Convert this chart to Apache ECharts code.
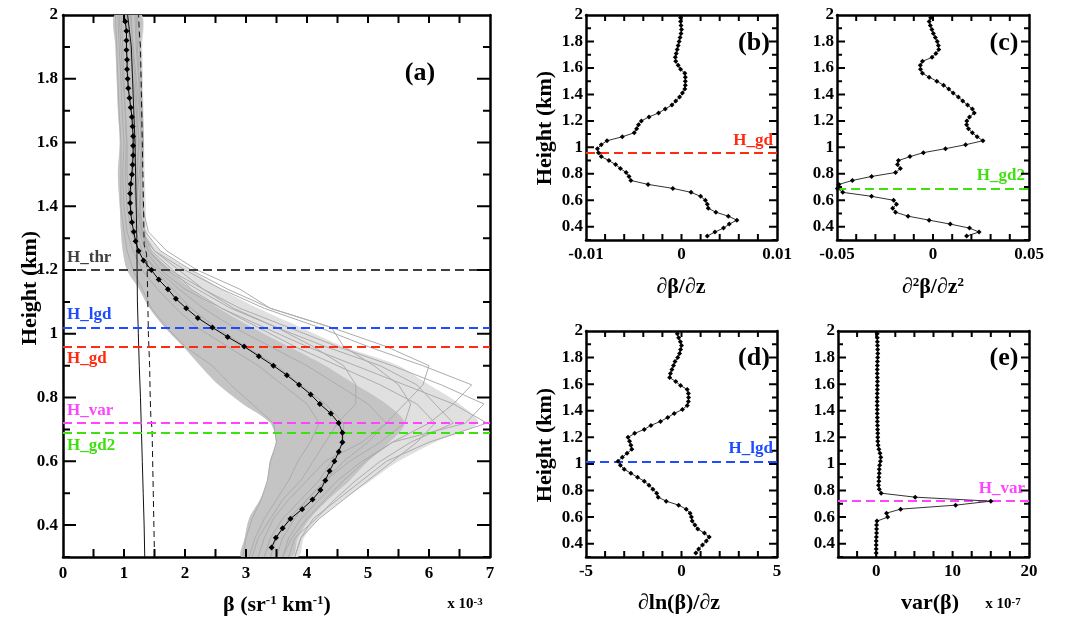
<!DOCTYPE html>
<html><head><meta charset="utf-8">
<script src="https://cdn.jsdelivr.net/npm/echarts@6/dist/echarts.min.js"></script>
<style>html,body{margin:0;padding:0;background:#fff}#c{width:1066px;height:619px}</style>
</head><body><div id="c"></div>
<script>
const FONT = '"Liberation Serif","Times New Roman",serif';

// ---------- data ----------
const heights = [0.33,0.36,0.39,0.42,0.45,0.48,0.51,0.54,0.57,0.60,0.63,0.66,0.69,0.72,0.75,0.78,0.81,0.84,0.87,0.90,0.93,0.96,0.99,1.02,1.05,1.08,1.11,1.14,1.17,1.20,1.23,1.26,1.29,1.32,1.35,1.38,1.41,1.44,1.47,1.50,1.53,1.56,1.59,1.62,1.65,1.68,1.71,1.74,1.77,1.80,1.83,1.86,1.89,1.92,1.95,1.98];
// mean backscatter (x 10^-3)
const meanBeta = [3.42,3.49,3.60,3.73,3.92,4.09,4.22,4.30,4.37,4.45,4.52,4.58,4.58,4.52,4.39,4.21,4.06,3.87,3.67,3.45,3.21,2.97,2.70,2.45,2.21,2.02,1.85,1.72,1.57,1.45,1.32,1.24,1.19,1.16,1.13,1.11,1.10,1.10,1.11,1.13,1.14,1.15,1.15,1.15,1.14,1.13,1.11,1.09,1.07,1.06,1.05,1.05,1.04,1.04,1.04,1.02];
const dBeta = [0.0027,0.0035,0.0044,0.0050,0.0058,0.0049,0.0036,0.0028,0.0027,0.0025,0.0020,0.0010,-0.0009,-0.0035,-0.0053,-0.0055,-0.0058,-0.0064,-0.0069,-0.0076,-0.0084,-0.0087,-0.0088,-0.0084,-0.0078,-0.0062,-0.00495,-0.0047,-0.0045,-0.0042,-0.0034,-0.0024,-0.0017,-0.0010,-0.0006,-0.0002,0.0001,0.00035,0.0004,0.0004,0.0004,0.00035,-0.0001,-0.00035,-0.0006,-0.00065,-0.00055,-0.00045,-0.00035,-0.00025,-0.00015,-0.00005,0.0,-0.00005,-0.0001,-0.0001];
const d2Beta = [0.0175,0.024,0.019,0.009,-0.002,-0.013,-0.0195,-0.021,-0.019,-0.0205,-0.032,-0.047,-0.0498,-0.049,-0.042,-0.032,-0.0195,-0.017,-0.0185,-0.018,-0.012,-0.005,0.0065,0.017,0.026,0.023,0.0205,0.0185,0.0175,0.0176,0.019,0.0215,0.0205,0.018,0.0155,0.0132,0.0105,0.0082,0.0055,0.002,-0.002,-0.0055,-0.0065,-0.0066,-0.0055,-0.0005,0.0015,0.003,0.0028,0.0022,0.0012,0.0002,-0.0006,-0.0014,-0.002,-0.0012];
const dlnBeta = [0.75,0.9,1.1,1.3,1.45,1.2,0.85,0.7,0.56,0.52,0.45,0.25,-0.15,-0.8,-1.22,-1.3,-1.5,-1.7,-1.95,-2.3,-2.65,-3.0,-3.2,-3.32,-3.1,-2.85,-2.6,-2.65,-2.72,-2.8,-2.45,-1.95,-1.6,-1.1,-0.72,-0.38,0.05,0.3,0.36,0.37,0.36,0.3,-0.05,-0.3,-0.62,-0.58,-0.5,-0.42,-0.34,-0.2,-0.1,-0.05,0.0,-0.06,-0.15,-0.22];
// variance (x 10^-7)
const varBeta = [0.0,0.0,0.0,0.0,0.02,0.05,0.05,0.05,0.1,1.5,1.35,3.2,10.4,15.0,5.1,0.65,0.4,0.3,0.35,0.35,0.4,0.4,0.45,0.55,0.6,0.5,0.35,0.25,0.2,0.2,0.2,0.18,0.17,0.15,0.15,0.14,0.14,0.13,0.13,0.13,0.14,0.15,0.15,0.16,0.15,0.14,0.14,0.15,0.16,0.18,0.2,0.19,0.17,0.15,0.14,0.13];

// reference profiles in (a)
const refH = [0.30,0.40,0.50,0.60,0.70,0.80,0.90,1.00,1.10,1.20,1.30,1.40,1.50,1.60,1.70,1.80,1.90,2.00];
const refSolid = [1.34,1.33,1.315,1.30,1.285,1.27,1.25,1.235,1.22,1.215,1.21,1.20,1.19,1.18,1.16,1.14,1.12,1.06];
const dashH = [0.30,0.40,0.50,0.60,0.70,0.74,0.80,0.90,1.00,1.10,1.20,1.25,1.28,1.40,1.50,1.60,1.70,1.80,1.90,1.95,2.00];
const dashB = [1.50,1.49,1.48,1.47,1.46,1.44,1.43,1.42,1.40,1.39,1.38,1.37,1.33,1.32,1.31,1.30,1.29,1.28,1.27,1.25,1.24];

// individual profiles (gray ensemble) in (a)
const hg = [0.30,0.36,0.42,0.48,0.54,0.60,0.66,0.72,0.78,0.84,0.90,0.96,1.02,1.08,1.14,1.20,1.26,1.32,1.40,1.50,1.60,1.70,1.80,1.90,2.00];
const bandLeft = [2.93,2.98,3.05,3.23,3.35,3.39,3.49,3.40,2.95,2.55,2.25,1.97,1.67,1.42,1.25,1.05,0.98,0.95,0.93,0.90,0.93,0.90,0.88,0.86,0.85];
const bandOuterRight = [3.85,3.95,4.20,4.60,5.05,5.50,6.10,6.80,6.50,6.00,5.50,4.60,3.90,3.20,2.60,2.10,1.60,1.38,1.36,1.34,1.33,1.32,1.31,1.30,1.29];
const bandCoreRight = [3.75,3.85,4.05,4.35,4.70,5.00,5.35,5.60,5.30,4.80,4.30,3.70,3.10,2.55,2.10,1.75,1.45,1.35,1.33,1.31,1.31,1.30,1.29,1.28,1.28];
const gray1 = [3.80,3.90,4.10,4.50,4.90,5.30,6.00,6.95,6.40,5.60,4.80,4.00,3.30,2.60,2.00,1.60,1.35,1.25,1.20,1.25,1.30,1.25,1.20,1.15,1.10];
const gray2 = [3.60,3.70,3.90,4.20,4.50,4.90,5.40,6.00,6.40,6.70,5.90,5.00,4.20,3.30,2.60,2.00,1.50,1.30,1.20,1.20,1.25,1.20,1.15,1.10,1.05];
const gray3 = [3.50,3.60,3.80,4.00,4.30,4.60,5.00,5.30,5.60,5.90,6.00,5.30,4.40,3.40,2.70,2.10,1.60,1.35,1.20,1.15,1.20,1.20,1.15,1.10,1.05];
const gray4 = [2.95,3.00,3.10,3.25,3.35,3.40,3.50,3.45,3.10,2.75,2.45,2.00,1.70,1.45,1.30,1.15,1.05,1.00,0.95,0.95,0.95,0.92,0.90,0.88,0.86];
const gray5 = [3.30,3.40,3.60,3.90,4.20,4.40,4.60,4.60,4.30,3.90,3.50,3.00,2.50,2.10,1.80,1.50,1.30,1.20,1.12,1.12,1.15,1.12,1.07,1.05,1.03];
const gray6 = [3.80,3.90,4.20,4.60,5.00,5.40,5.80,6.10,5.80,5.20,4.50,3.80,3.20,2.60,2.10,1.80,1.45,1.30,1.25,1.28,1.30,1.28,1.25,1.22,1.20];
const gray7 = [3.40,3.50,3.70,4.00,4.30,4.70,5.20,5.60,5.70,5.50,5.10,4.60,4.40,3.40,2.90,2.20,1.70,1.40,1.30,1.30,1.32,1.30,1.28,1.25,1.22];
const gray8 = [3.10,3.20,3.40,3.60,3.90,4.10,4.30,4.50,4.80,4.80,4.60,4.10,3.50,2.80,2.30,1.90,1.50,1.25,1.10,1.05,1.05,1.02,1.00,0.98,0.95];
const gray9 = [3.60,3.75,4.00,4.30,4.60,4.95,5.40,6.60,6.90,6.20,5.40,4.50,3.70,2.90,2.30,1.75,1.40,1.28,1.22,1.22,1.24,1.22,1.18,1.14,1.12];
const gray10 = [3.20,3.30,3.45,3.70,4.00,4.30,4.90,5.30,5.00,4.50,4.00,3.40,2.80,2.30,1.90,1.55,1.25,1.12,1.05,1.02,1.04,1.02,0.98,0.95,0.92];
const gray11 = [3.05,3.15,3.30,3.50,3.70,3.85,4.05,4.20,4.00,3.60,3.20,2.70,2.20,1.85,1.55,1.30,1.15,1.05,1.00,0.98,1.00,0.97,0.95,0.92,0.90];
const gray12 = [3.70,3.80,4.15,4.45,4.80,5.20,5.70,6.40,6.10,5.80,5.20,4.30,3.50,2.75,2.20,1.70,1.40,1.30,1.27,1.27,1.28,1.26,1.24,1.20,1.18];

// detected heights (km)
const hThr = 1.20, hLgd = 1.02, hGd = 0.96, hVar = 0.72, hGd2 = 0.69;

// tick labels shown
const yLabels = [0.4,0.6,0.8,1,1.2,1.4,1.6,1.8,2];
const xLabelsA = [0,1,2,3,4,5,6,7];
const xLabelsB = [-0.01,0,0.01];
const xLabelsC = [-0.05,0,0.05];
const xLabelsD = [-5,0,5];
const xLabelsE = [0,10,20];
// tick mark positions
const yMajorTicks = [0.4,0.6,0.8,1.0,1.2,1.4,1.6,1.8];
const yMinorTicks = [0.3,0.5,0.7,0.9,1.1,1.3,1.5,1.7,1.9];
const xTicksA = [0.5,1,1.5,2,2.5,3,3.5,4,4.5,5,5.5,6,6.5];
const xTicksB = [-0.008,-0.006,-0.004,-0.002,0,0.002,0.004,0.006,0.008];
const xTicksC = [-0.04,-0.03,-0.02,-0.01,0,0.01,0.02,0.03,0.04];
const xTicksD = [-4,-3,-2,-1,0,1,2,3,4];
const xTicksE = [-2.5,0,2.5,5,7.5,10,12.5,15,17.5];

// ---------- layout ----------
const grids = [
  {left:63, top:15, width:427, height:542},
  {left:586, top:15, width:191, height:225},
  {left:837, top:15, width:192, height:225},
  {left:586, top:331, width:191, height:226},
  {left:838, top:331, width:191, height:226}
];
function fmtFrom(list) {
  return v => {
    for (const l of list) { if (Math.abs(v - l) < 1e-9) return String(l); }
    return '';
  };
}
const xAxes = [], yAxes = [];
function addAxes(list, dim, gi, min, max, interval, labels, fs, margin) {
  const posA = dim === 'x' ? 'bottom' : 'left', posB = dim === 'x' ? 'top' : 'right';
  const base = {type:'value', gridIndex:gi, min:min, max:max, interval:interval, splitLine:{show:false}, axisPointer:{show:false}, axisTick:{show:false}};
  const line = {show:true, onZero:false, lineStyle:{color:'#000', width:2.5}};
  const idx = list.length;
  list.push(Object.assign({}, base, {position:posA, axisLine:line,
    axisLabel:{show:true, showMinLabel:true, showMaxLabel:true, hideOverlap:false, formatter:fmtFrom(labels), margin:margin,
      fontFamily:FONT, fontWeight:'bold', fontSize:fs, color:'#000'}}));
  list.push(Object.assign({}, base, {position:posB, axisLine:line, axisLabel:{show:false}}));
  return idx;
}
const xa = [], ya = [];
const xRanges = [[0,7],[-0.01,0.01],[-0.05,0.05],[-5,5],[-5,20]];
xa.push(addAxes(xAxes,'x',0,0,7,0.5,xLabelsA,17,8));
ya.push(addAxes(yAxes,'y',0,0.3,2,0.1,yLabels,17,5));
xa.push(addAxes(xAxes,'x',1,-0.01,0.01,0.002,xLabelsB,17,6));
ya.push(addAxes(yAxes,'y',1,0.3,2,0.1,yLabels,17,3));
xa.push(addAxes(xAxes,'x',2,-0.05,0.05,0.01,xLabelsC,17,6));
ya.push(addAxes(yAxes,'y',2,0.3,2,0.1,yLabels,17,3));
xa.push(addAxes(xAxes,'x',3,-5,5,1,xLabelsD,17,6));
ya.push(addAxes(yAxes,'y',3,0.3,2,0.1,yLabels,17,3));
xa.push(addAxes(xAxes,'x',4,-5,20,2.5,xLabelsE,17,6));
ya.push(addAxes(yAxes,'y',4,0.3,2,0.1,yLabels,17,3));

// ---------- series ----------
const pairs = (xs, hs) => hs.map((h, i) => [xs[i], h]);
const series = [];
function band(right, color) {
  series.push({type:'custom', xAxisIndex:xa[0], yAxisIndex:ya[0], silent:true, clip:true, z:1,
    data:[[1,1]],
    renderItem:(params, api) => {
      const pts = [];
      hg.forEach((h, i) => pts.push(api.coord([bandLeft[i], h])));
      for (let i = hg.length - 1; i >= 0; i--) pts.push(api.coord([right[i], hg[i]]));
      return {type:'polygon', shape:{points:pts, smooth:0.3}, style:{fill:color}};
    }});
}
band(bandOuterRight, '#e0e0e0');
band(bandCoreRight, '#c4c4c4');
[gray1,gray2,gray3,gray4,gray5,gray6,gray7,gray8,gray9,gray10,gray11,gray12].forEach(g => {
  series.push({type:'line', xAxisIndex:xa[0], yAxisIndex:ya[0], data:pairs(g, hg), showSymbol:false, silent:true,
    lineStyle:{color:'#acacac', width:1}, z:2});
});
series.push({type:'line', xAxisIndex:xa[0], yAxisIndex:ya[0], data:pairs(refSolid, refH), showSymbol:false,
  lineStyle:{color:'#111', width:1}, z:3});
series.push({type:'line', xAxisIndex:xa[0], yAxisIndex:ya[0], data:pairs(dashB, dashH), showSymbol:false,
  lineStyle:{color:'#111', width:1, type:[6,4]}, z:3});

function hline(val, name, color, pos) {
  return {yAxis:val, lineStyle:{color:color, width:1.8, type:[9,5]},
    label:{show:true, formatter:name, position:pos, color:color, fontFamily:FONT, fontWeight:'bold', fontSize:17, distance:4}};
}
const ML = data => ({symbol:'none', silent:true, animation:false, data:data});

series.push({type:'line', xAxisIndex:xa[0], yAxisIndex:ya[0], data:pairs(meanBeta, heights),
  symbol:'diamond', symbolSize:6, itemStyle:{color:'#000'}, lineStyle:{color:'#000', width:1}, z:5,
  markLine:ML([
    hline(hThr,'H_thr','#404040','insideStartTop'),
    hline(hLgd,'H_lgd','#1f4cff','insideStartTop'),
    hline(hGd,'H_gd','#ff2a10','insideStartBottom'),
    hline(hVar,'H_var','#ff44ff','insideStartTop'),
    hline(hGd2,'H_gd2','#3fe010','insideStartBottom')
  ])});

function small(gi, vals, ml) {
  series.push({type:'line', xAxisIndex:xa[gi], yAxisIndex:ya[gi], data:pairs(vals, heights),
    symbol:'diamond', symbolSize:5, itemStyle:{color:'#000'}, lineStyle:{color:'#333', width:1}, z:5,
    markLine:ML([ml])});
}
small(1, dBeta, hline(hGd,'H_gd','#ff2a10','insideEndTop'));
small(2, d2Beta, hline(hGd2,'H_gd2','#3fe010','insideEndTop'));
small(3, dlnBeta, hline(hLgd,'H_lgd','#1f4cff','insideEndTop'));
small(4, varBeta, hline(hVar,'H_var','#ff44ff','insideEndTop'));

// tick marks: one plain line series per panel, segments separated by gaps ('-')
function tickSeries(gi, xT, xLen, yMajLen, yMinLen) {
  const g = grids[gi], xmin = xRanges[gi][0], xmax = xRanges[gi][1];
  const ux = (xmax - xmin) / g.width, uy = (2 - 0.3) / g.height;
  const d = [];
  const seg = (a, b) => { d.push(a); d.push(b); d.push(['-', '-']); };
  xT.forEach(v => {
    seg([v, 0.3], [v, 0.3 + xLen * uy]);
    seg([v, 2], [v, 2 - xLen * uy]);
  });
  const yt = (v, len) => {
    seg([xmin, v], [xmin + len * ux, v]);
    seg([xmax, v], [xmax - len * ux, v]);
  };
  yMajorTicks.forEach(v => yt(v, yMajLen));
  yMinorTicks.forEach(v => yt(v, yMinLen));
  series.push({type:'line', xAxisIndex:xa[gi], yAxisIndex:ya[gi], data:d, showSymbol:false, symbol:'none',
    connectNulls:false, clip:false, silent:true, z:8, lineStyle:{color:'#000', width:2}});
}
tickSeries(0, xTicksA, 8, 13, 7);
tickSeries(1, xTicksB, 6, 8, 5);
tickSeries(2, xTicksC, 6, 8, 5);
tickSeries(3, xTicksD, 6, 8, 5);
tickSeries(4, xTicksE, 6, 8, 5);

// ---------- texts ----------
function txt(x, y, text, size, opts) {
  const o = Object.assign({align:'center', vAlign:'middle', rot:0, rich:null}, opts || {});
  const style = {text:text, fontFamily:FONT, fontWeight:'bold', fontSize:size, fill:'#000',
    align:o.align, verticalAlign:o.vAlign, textAlign:o.align, textVerticalAlign:o.vAlign};
  if (o.rich) style.rich = o.rich;
  return {type:'text', x:x, y:y, rotation:o.rot, silent:true, style:style};
}
const sup = s => ({s:{fontFamily:FONT, fontWeight:'bold', fontSize:s, verticalAlign:'top', fill:'#000'}});
const graphic = [
  txt(30, 288, 'Height (km)', 22, {rot:Math.PI/2}),
  txt(545, 128, 'Height (km)', 22, {rot:Math.PI/2}),
  txt(545, 445, 'Height (km)', 22, {rot:Math.PI/2}),
  txt(277, 605, 'β (sr{s|-1} km{s|-1})', 22, {rich:sup(13)}),
  txt(465, 604, 'x 10{s|-3}', 15, {rich:sup(11)}),
  txt(681, 287, '∂β/∂z', 22),
  txt(933, 287, '∂{s|2}β/∂z{s|2}', 22, {rich:sup(13)}),
  txt(679, 603, '∂ln(β)/∂z', 22),
  txt(930, 603, 'var(β)', 22),
  txt(1003, 604, 'x 10{s|-7}', 15, {rich:sup(11)}),
  txt(420, 73, '(a)', 26),
  txt(754, 43, '(b)', 26),
  txt(1004, 43, '(c)', 26),
  txt(754, 358, '(d)', 26),
  txt(1004, 358, '(e)', 26)
];

const chart = echarts.init(document.getElementById('c'), null, {renderer:'canvas'});
chart.setOption({animation:false, backgroundColor:'#fff', grid:grids, xAxis:xAxes, yAxis:yAxes, series:series, graphic:graphic});
</script></body></html>
